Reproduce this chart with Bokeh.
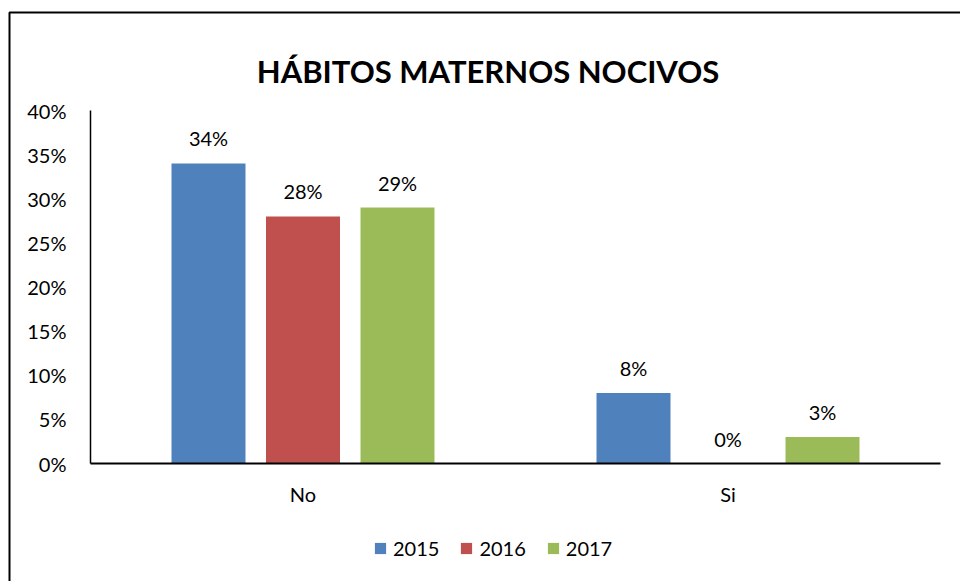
from bokeh.plotting import figure
from bokeh.models import (ColumnDataSource, Range1d, FixedTicker, NumeralTickFormatter, Legend,
                          LegendItem, LabelSet, Label, BoxAnnotation)
from bokeh.transform import dodge
from bokeh.core.properties import value
from bokeh.embed import file_html
from bokeh.resources import INLINE

categories = ["No", "Si"]
years = ["2015", "2016", "2017"]
v2015 = [0.34, 0.08]
v2016 = [0.28, 0.00]
v2017 = [0.29, 0.03]
colors = ["#4F81BD", "#C0504D", "#9BBB59"]
y_ticks = [0, 0.05, 0.10, 0.15, 0.20, 0.25, 0.30, 0.35, 0.40]
title_text = "HÁBITOS MATERNOS NOCIVOS"

FONT = "Lato"
W, H = 960, 581
# layout: category slot = 425 px, first category centred at 302.5 px; 0% at 463 px, 40% at 110 px
SLOT, CX0 = 425.0, 302.5
Y0PX, Y40PX = 463.0, 110.0
ypp = 0.40 / (Y0PX - Y40PX)

idx = list(range(len(categories)))
src = ColumnDataSource(dict(
    idx=idx,
    y2015=v2015, y2016=v2016, y2017=v2017,
    l2015=[f"{round(v*100)}%" for v in v2015],
    l2016=[f"{round(v*100)}%" for v in v2016],
    l2017=[f"{round(v*100)}%" for v in v2017],
))

x_range = Range1d(-CX0 / SLOT, (W - CX0) / SLOT)
y_range = Range1d(-(H - Y0PX) * ypp, Y0PX * ypp)

p = figure(x_range=x_range, y_range=y_range, width=W, height=H,
           output_backend="svg", toolbar_location=None,
           min_border_left=0, min_border_right=0, min_border_top=0, min_border_bottom=0)
p.outline_line_color = None
p.xgrid.grid_line_color = None
p.ygrid.grid_line_color = None

# chart-area border (left and top edges visible)
p.add_layout(BoxAnnotation(left=9, top=12, right=3000, bottom=3000,
                           left_units="canvas", right_units="canvas",
                           top_units="canvas", bottom_units="canvas",
                           fill_alpha=0, line_color="black", line_alpha=1.0, line_width=2))

# title
p.add_layout(Label(x=(487.5 - CX0) / SLOT, y=(Y0PX - 70) * ypp, text=title_text,
                   text_align="center", text_baseline="alphabetic",
                   text_font=FONT, text_font_size="31px", text_font_style="bold",
                   text_color="black"))

bar_w = 74 / SLOT
offsets = [-94.5 / SLOT, 0.0, 94.5 / SLOT]
renderers = []
for yr, off, col in zip(years, offsets, colors):
    r = p.vbar(x=dodge("idx", off), top="y" + yr, width=bar_w,
               source=src, fill_color=col, line_color=None)
    renderers.append(r)
    p.add_layout(LabelSet(x=dodge("idx", off), y="y" + yr, text="l" + yr,
                          source=src, text_align="center", text_baseline="alphabetic",
                          y_offset=17, text_font=value(FONT), text_font_size="20px",
                          text_color="black"))

# axes
p.yaxis.fixed_location = -0.5
p.yaxis.bounds = (0, 0.40)
p.yaxis.ticker = FixedTicker(ticks=y_ticks)
p.yaxis.formatter = NumeralTickFormatter(format="0%")
p.yaxis.major_tick_line_color = None
p.yaxis.minor_tick_line_color = None
p.yaxis.major_tick_out = 0
p.yaxis.major_tick_in = 0
p.yaxis.major_label_standoff = 24
p.yaxis.axis_line_width = 1.5
p.yaxis.axis_line_color = "black"
p.yaxis.major_label_text_font = FONT
p.yaxis.major_label_text_font_size = "20px"
p.yaxis.major_label_text_color = "black"

p.xaxis.fixed_location = 0
p.xaxis.bounds = (-0.5, len(categories) - 0.5)
p.xaxis.ticker = FixedTicker(ticks=idx)
p.xaxis.major_label_overrides = {i: c for i, c in zip(idx, categories)}
p.xaxis.major_tick_line_color = None
p.xaxis.minor_tick_line_color = None
p.xaxis.major_tick_out = 0
p.xaxis.major_tick_in = 0
p.xaxis.major_label_standoff = 18
p.xaxis.axis_line_width = 2
p.xaxis.axis_line_color = "black"
p.xaxis.major_label_text_font = FONT
p.xaxis.major_label_text_font_size = "20px"
p.xaxis.major_label_text_color = "black"

legend = Legend(items=[LegendItem(label=yr, renderers=[r]) for yr, r in zip(years, renderers)],
                orientation="horizontal", location=(373, 21),
                glyph_width=14, glyph_height=14, label_standoff=6, spacing=20,
                padding=0, margin=0, border_line_color=None, background_fill_alpha=0,
                label_text_font=FONT, label_text_font_size="20px", label_text_color="black")
p.add_layout(legend)

open("out.html", "w").write(file_html(p, INLINE))
